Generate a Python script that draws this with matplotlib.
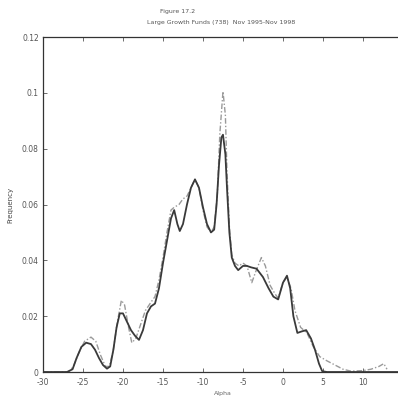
import matplotlib
matplotlib.use("Agg")
import matplotlib.pyplot as plt

title_lines = ["Figure 17.2", "Large Growth Funds (738)  Nov 1995-Nov 1998"]
x_label = "Alpha"
y_label = "Frequency"

x_ticks = [-30, -25, -20, -15, -10, -5, 0, 5, 10]
x_tick_labels = ["-30", "-25", "-20", "-15", "-10", "-5", "0", "5", "10"]
y_ticks = [0, 0.02, 0.04, 0.06, 0.08, 0.1, 0.12]
y_tick_labels = ["0", "0.02", "0.04", "0.06", "0.08", "0.1", "0.12"]

solid_alpha = [-30, -27, -26.3, -25.8, -25.2, -24.6, -24.0, -23.5, -23.0, -22.5, -22.0,
               -21.6, -21.2, -20.8, -20.4, -20.0, -19.5, -19.0, -18.5, -18.0, -17.5,
               -17.0, -16.5, -16.0, -15.5, -15.0, -14.5, -14.0, -13.6, -13.2, -12.9,
               -12.5, -12.0, -11.5, -11.0, -10.5, -10.0, -9.5, -9.0, -8.6, -8.3, -8.0,
               -7.7, -7.5, -7.2, -7.0, -6.7, -6.4, -6.0, -5.6, -5.0, -4.5, -4.0, -3.3,
               -2.5, -1.8, -1.2, -0.6, 0.0, 0.5, 0.9, 1.3, 1.8, 2.3, 2.9, 3.5, 4.0,
               4.5, 4.9, 5.5, 15]
solid_freq = [0, 0, 0.001, 0.005, 0.009, 0.0105, 0.010, 0.008, 0.005, 0.0025, 0.0012,
              0.002, 0.008, 0.016, 0.021, 0.021, 0.018, 0.015, 0.013, 0.0115, 0.015,
              0.021, 0.0235, 0.0245, 0.030, 0.039, 0.047, 0.055, 0.058, 0.053, 0.0505,
              0.053, 0.060, 0.066, 0.069, 0.066, 0.059, 0.053, 0.050, 0.051, 0.060, 0.074,
              0.084, 0.085, 0.078, 0.066, 0.050, 0.041, 0.038, 0.0365, 0.038, 0.038, 0.0375, 0.037,
              0.034, 0.030, 0.027, 0.026, 0.032, 0.0345, 0.030, 0.020, 0.014, 0.0145, 0.015, 0.012, 0.008,
              0.003, 0.0003, 0, 0]

dashed_alpha = [-30, -26.8, -26.2, -25.5, -24.8, -24.0, -23.4, -22.8, -22.2, -21.7, -21.2,
                -20.7, -20.2, -19.8, -19.3, -18.9, -18.4, -17.8, -17.2, -16.5, -16.0,
                -15.5, -15.0, -14.5, -14.0, -13.6, -13.0, -12.5, -12.0, -11.5, -11.0,
                -10.5, -10.0, -9.5, -9.0, -8.6, -8.2, -7.9, -7.5, -7.2, -7.0, -6.7, -6.4,
                -6.0, -5.5, -5.0, -4.5, -3.9, -3.4, -2.7, -2.2, -1.6, -1.0, -0.6, 0.0,
                0.5, 1.0, 1.5, 2.2, 3.0, 3.8, 4.6, 5.5, 6.5, 7.5, 8.5, 10, 11, 12, 12.6, 13.0]
dashed_freq = [0, 0, 0.002, 0.007, 0.011, 0.0125, 0.011, 0.006, 0.002, 0.002, 0.008,
               0.018, 0.0257, 0.024, 0.016, 0.0105, 0.012, 0.017, 0.022, 0.025, 0.027,
               0.033, 0.041, 0.050, 0.058, 0.059, 0.060, 0.062, 0.063, 0.066, 0.069,
               0.066, 0.058, 0.052, 0.050, 0.052, 0.064, 0.085, 0.1005, 0.092, 0.072, 0.052, 0.042,
               0.039, 0.038, 0.039, 0.038, 0.032, 0.036, 0.041, 0.038, 0.031, 0.028, 0.0265, 0.032,
               0.034, 0.030, 0.022, 0.016, 0.014, 0.009, 0.0055, 0.004, 0.0025, 0.001, 0.0003, 0.0005,
               0.001, 0.002, 0.003, 0.001]

fig = plt.figure(figsize=(3.98, 4.01), dpi=100)
ax = fig.add_axes([0.108, 0.0723, 0.9045, 0.8354])

ax.plot(dashed_alpha, dashed_freq, color="#9a9a9a", lw=1.0, ls=(0, (4, 1.5, 1, 1.5)))
ax.plot(solid_alpha, solid_freq, color="#3a3a3a", lw=1.3)

ax.set_xlim(-30, 15)
ax.set_ylim(0, 0.12)
ax.set_xticks(x_ticks)
ax.set_xticklabels(x_tick_labels)
ax.set_yticks(y_ticks)
ax.set_yticklabels(y_tick_labels)
ax.tick_params(direction="in", length=3, width=0.6, labelsize=5.5, colors="#555555",
               top=True, right=True)
ax.tick_params(axis="x", pad=4)
ax.tick_params(axis="y", pad=3)
for s in ax.spines.values():
    s.set_color("#333333")
    s.set_linewidth(0.9)

ax.set_xlabel(x_label, fontsize=4.5, color="#666666", labelpad=3)
ax.set_ylabel(y_label, fontsize=5, color="#444444", labelpad=6)
fig.text(0.445, 0.972, title_lines[0], fontsize=4.5, color="#555555", ha="center", va="center")
fig.text(0.555, 0.943, title_lines[1], fontsize=4.5, color="#555555", ha="center", va="center")

fig.savefig("out.png", dpi=100)
